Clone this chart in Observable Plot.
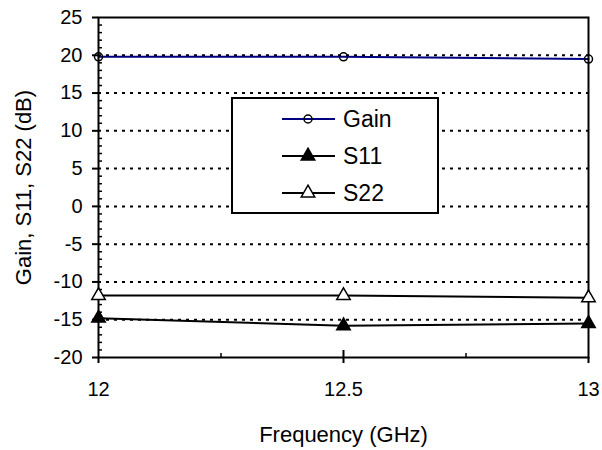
<!DOCTYPE html>
<html>
<head>
<meta charset="utf-8">
<script src="https://cdn.jsdelivr.net/npm/d3@7"></script>
<script src="https://cdn.jsdelivr.net/npm/@observablehq/plot@0.6"></script>
<style>
  html, body { margin: 0; padding: 0; background: white; }
</style>
</head>
<body>
<div id="chart"></div>
<script>
// ---- data ----
const freq = [12, 12.5, 13];
const gain = [19.8, 19.8, 19.5];
const s11 = [-14.8, -15.8, -15.5];
const s22 = [-11.8, -11.8, -12.1];
const seriesNames = ["Gain", "S11", "S22"];
const yTicks = [-20, -15, -10, -5, 0, 5, 10, 15, 20, 25];
const yGrid = [-15, -10, -5, 0, 5, 10, 15, 20];
const yMinor = d3.range(-19, 25, 1).filter(v => v % 5 !== 0);
const xTicks = [12, 12.5, 13];
const xMinor = [12.25, 12.75];
const xLabel = "Frequency (GHz)";
const yLabel = "Gain, S11, S22 (dB)";

const rows = (vals) => freq.map((f, i) => ({x: f, y: vals[i]}));
const gainRows = rows(gain), s11Rows = rows(s11), s22Rows = rows(s22);

const font = "'Liberation Sans', Arial, sans-serif";

const chart = Plot.plot({
  width: 602,
  height: 450,
  marginLeft: 98,
  marginRight: 14,
  marginTop: 17,
  marginBottom: 93,
  style: {fontFamily: font, fontSize: "20px", color: "black", background: "white"},
  x: {domain: [12, 13]},
  y: {domain: [-20, 25]},
  marks: [
    Plot.gridY(yGrid, {stroke: "black", strokeOpacity: 1, strokeWidth: 2, strokeDasharray: "3,5"}),
    Plot.line(s22Rows, {x: "x", y: "y", stroke: "black", strokeWidth: 2}),
    Plot.line(s11Rows, {x: "x", y: "y", stroke: "black", strokeWidth: 2}),
    Plot.line(gainRows, {x: "x", y: "y", stroke: "#000080", strokeWidth: 2}),
    Plot.frame({stroke: "black", strokeWidth: 2}),
    Plot.axisY(yTicks, {tickSize: 6, tickPadding: 10, fontSize: 20, label: null, strokeWidth: 2, tickFormat: d => String(d)}),
    Plot.tickY(yMinor, {y: d => d, stroke: "black", strokeWidth: 1.5, insetRight: 486}),
    Plot.axisX(xTicks, {tickSize: 6, tickPadding: 18, fontSize: 20, label: null, strokeWidth: 2, tickFormat: d => String(d)}),
    Plot.tickX([12.5], {x: d => d, stroke: "black", strokeWidth: 2, insetTop: 333}),
    Plot.tickX(xMinor, {x: d => d, stroke: "black", strokeWidth: 1.5, insetTop: 336}),
    Plot.dot(gainRows, {x: "x", y: "y", r: 4, stroke: "black", strokeWidth: 1.5, fill: "none"}),
    Plot.dot(s11Rows, {x: "x", y: "y", r: 5, symbol: "triangle", stroke: "black", strokeWidth: 1.5, fill: "black"}),
    Plot.dot(s22Rows, {x: "x", y: "y", r: 5, symbol: "triangle", stroke: "black", strokeWidth: 1.5, fill: "white"}),
    Plot.text([yLabel], {frameAnchor: "left", textAnchor: "middle", dx: -75, rotate: -90, fontSize: 22}),
    Plot.text([xLabel], {frameAnchor: "bottom", dy: 84, fontSize: 22})
  ]
});

document.getElementById("chart").appendChild(chart);

// ---- legend (inside plot area) ----
const svg = d3.select(chart);
const lg = svg.append("g").attr("font-family", font).attr("font-size", 23).attr("text-anchor", "start");
lg.append("rect").attr("x", 232).attr("y", 98).attr("width", 206).attr("height", 115)
  .attr("fill", "white").attr("stroke", "black").attr("stroke-width", 2);
const entries = [
  {name: seriesNames[0], color: "#000080", sym: d3.symbolCircle, r: 4, fill: "none"},
  {name: seriesNames[1], color: "black", sym: d3.symbolTriangle, r: 5, fill: "black"},
  {name: seriesNames[2], color: "black", sym: d3.symbolTriangle, r: 5, fill: "white"}
];
entries.forEach((e, i) => {
  const cy = 119 + i * 37;
  lg.append("line").attr("x1", 282).attr("x2", 335).attr("y1", cy).attr("y2", cy)
    .attr("stroke", e.color).attr("stroke-width", 2);
  lg.append("path").attr("d", d3.symbol(e.sym, e.r * e.r * Math.PI)())
    .attr("transform", `translate(308,${cy})`)
    .attr("fill", e.fill).attr("stroke", "black").attr("stroke-width", 1.5);
  lg.append("text").attr("x", 343).attr("y", cy).attr("dy", "0.35em").attr("text-anchor", "start").text(e.name);
});
</script>
</body>
</html>
